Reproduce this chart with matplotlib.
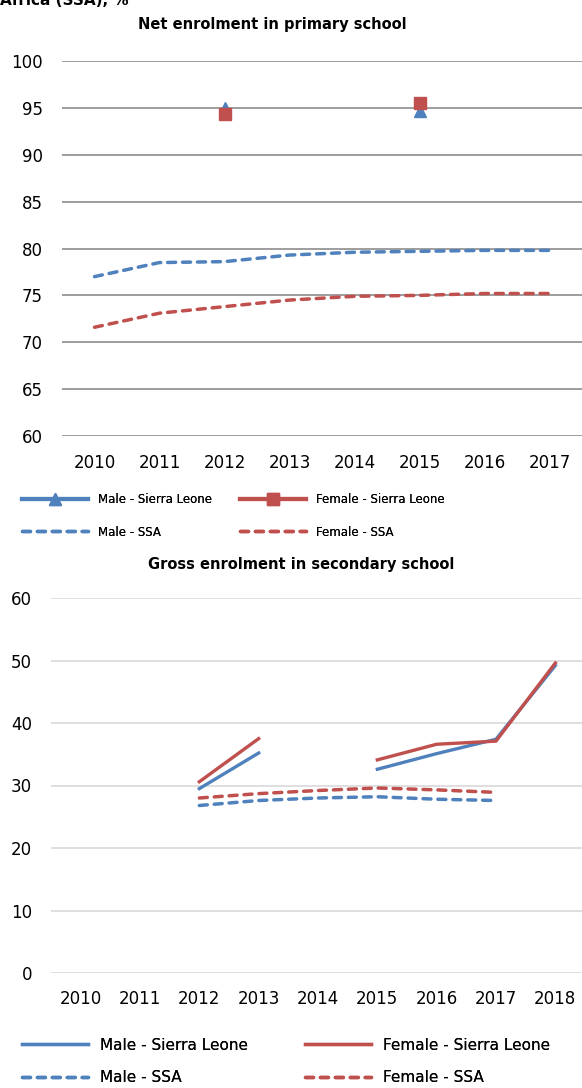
import numpy as np
import matplotlib
matplotlib.use("Agg")
import matplotlib.pyplot as plt

# ---------------- data ----------------
years_primary = ["2010", "2011", "2012", "2013", "2014", "2015", "2016", "2017"]
male_sl_primary = [np.nan, np.nan, 95.0, np.nan, np.nan, 94.7, np.nan, np.nan]
female_sl_primary = [np.nan, np.nan, 94.3, np.nan, np.nan, 95.5, np.nan, np.nan]
male_ssa_primary = [77.0, 78.5, 78.6, 79.3, 79.6, 79.7, 79.8, 79.8]
female_ssa_primary = [71.6, 73.1, 73.8, 74.5, 74.9, 75.0, 75.2, 75.2]

years_secondary = ["2010", "2011", "2012", "2013", "2014", "2015", "2016", "2017", "2018"]
male_sl_secondary = [np.nan, np.nan, 29.5, 35.2, np.nan, 32.6, 35.1, 37.4, 49.2]
female_sl_secondary = [np.nan, np.nan, 30.6, 37.5, np.nan, 34.1, 36.6, 37.1, 49.6]
male_ssa_secondary = [np.nan, np.nan, 26.8, 27.6, 28.0, 28.2, 27.8, 27.6, np.nan]
female_ssa_secondary = [np.nan, np.nan, 28.0, 28.7, 29.2, 29.6, 29.3, 28.9, np.nan]

labels = ["Male - Sierra Leone", "Female - Sierra Leone", "Male - SSA", "Female - SSA"]
primary_ticks = [60, 65, 70, 75, 80, 85, 90, 95, 100]
secondary_ticks = [0, 10, 20, 30, 40, 50, 60]

BLUE = "#4F81BD"
RED = "#C0504D"

plt.rcParams['font.family'] = ['DejaVu Sans']

W, H = 582, 1088
fig = plt.figure(figsize=(W / 100, H / 100), dpi=100)

def fx(px):
    return px / W

def fy(py):
    return 1 - py / H

# ---------------- top chart ----------------
ax1 = fig.add_axes([fx(62), fy(436), fx(520), 375 / H])
x1 = np.arange(len(years_primary))
dash_kw = dict(dashes=(2.3, 2.0), dash_capstyle='round')
l1, = ax1.plot(x1, male_sl_primary, color=BLUE, lw=3, marker='^', ms=8.5, label=labels[0])
l2, = ax1.plot(x1, female_sl_primary, color=RED, lw=3, marker='s', ms=8.5, label=labels[1])
l3, = ax1.plot(x1, male_ssa_primary, color=BLUE, lw=2.5, ls='--', label=labels[2], **dash_kw)
l4, = ax1.plot(x1, female_ssa_primary, color=RED, lw=2.5, ls='--', label=labels[3], **dash_kw)
ax1.set_xlim(-0.5, len(years_primary) - 0.5)
ax1.set_ylim(60, 100)
ax1.set_yticks(primary_ticks)
ax1.set_xticks(x1)
ax1.set_xticklabels(years_primary)
ax1.grid(axis='y', color='#8C8C8C', lw=1.2)
ax1.set_axisbelow(True)
for s in ax1.spines.values():
    s.set_visible(False)
ax1.tick_params(axis='y', length=0, pad=14, labelsize=12)
ax1.tick_params(axis='x', length=0, pad=13, labelsize=12)

fig.text(fx(272), fy(25), "Net enrolment in primary school", ha='center', va='center',
         fontsize=10.5, fontweight='bold')
fig.text(0.0, fy(5), "Africa (SSA), %", ha='left', va='baseline', fontsize=11, fontweight='bold')

leg_kw = dict(frameon=False, borderpad=0, borderaxespad=0, handletextpad=0.8, loc='center left')
for h, xpx, ypx in [(l1, 22, 500), (l2, 240, 500), (l3, 22, 532), (l4, 240, 532)]:
    lg = fig.legend(handles=[h], labels=[h.get_label()], bbox_to_anchor=(fx(xpx), fy(ypx)),
                    fontsize=8.5, handlelength=5.6, **leg_kw)
    fig.add_artist(lg)

# ---------------- bottom chart ----------------
ax2 = fig.add_axes([fx(51), fy(973), fx(534), 375 / H])
x2 = np.arange(len(years_secondary))
m1, = ax2.plot(x2, male_sl_secondary, color=BLUE, lw=2.4, label=labels[0])
m2, = ax2.plot(x2, female_sl_secondary, color=RED, lw=2.4, label=labels[1])
m3, = ax2.plot(x2, male_ssa_secondary, color=BLUE, lw=2.5, ls='--', label=labels[2], **dash_kw)
m4, = ax2.plot(x2, female_ssa_secondary, color=RED, lw=2.5, ls='--', label=labels[3], **dash_kw)
ax2.set_xlim(-0.5, len(years_secondary) - 0.5)
ax2.set_ylim(0, 60)
ax2.set_yticks(secondary_ticks)
ax2.set_xticks(x2)
ax2.set_xticklabels(years_secondary)
ax2.grid(axis='y', color='#D9D9D9', lw=1.2)
ax2.set_axisbelow(True)
for s in ax2.spines.values():
    s.set_visible(False)
ax2.tick_params(axis='y', length=0, pad=13.5, labelsize=12)
ax2.tick_params(axis='x', length=0, pad=12, labelsize=12)

fig.text(fx(301), fy(565), "Gross enrolment in secondary school", ha='center', va='center',
         fontsize=10.5, fontweight='bold')

for h, xpx, ypx in [(m1, 22, 1045), (m2, 305, 1045), (m3, 22, 1078), (m4, 305, 1078)]:
    lg = fig.legend(handles=[h], labels=[h.get_label()], bbox_to_anchor=(fx(xpx), fy(ypx)),
                    fontsize=11, handlelength=4.3, **leg_kw)
    fig.add_artist(lg)

fig.savefig("out.png", dpi=100)
